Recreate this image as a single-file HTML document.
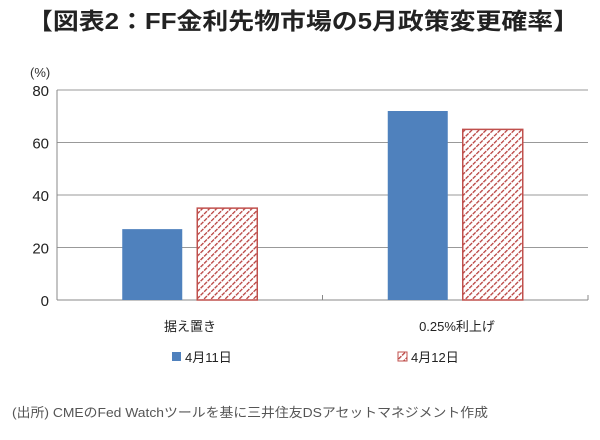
<!DOCTYPE html>
<html><head><meta charset="utf-8"><style>
body{margin:0;width:600px;height:435px;background:#fff;font-family:"Liberation Sans","Noto Sans CJK JP",sans-serif;overflow:hidden}
</style></head><body>
<svg width="600" height="435">
<defs><pattern id="hatch" patternUnits="userSpaceOnUse" width="5" height="5" patternTransform="rotate(45)">
<rect width="5" height="5" fill="#fff"/><line x1="0" y1="0" x2="0" y2="5" stroke="#b8403d" stroke-width="2.6" stroke-dasharray="2,1"/></pattern></defs>
<text x="27" y="29" textLength="552" lengthAdjust="spacingAndGlyphs" font-size="23" font-weight="bold" fill="#222">【図表2：FF金利先物市場の5月政策変更確率】</text>
<text x="30" y="77" font-size="13" fill="#333">(%)</text>
<g id="grid"></g><g id="bars"></g>
<text x="190" y="331" text-anchor="middle" font-size="13" fill="#222">据え置き</text>
<text x="457" y="331" text-anchor="middle" font-size="13" fill="#222">0.25%利上げ</text>
<rect x="172" y="352" width="9" height="9" fill="#4f81bd"/>
<text x="185" y="362" font-size="13" fill="#222">4月11日</text>
<rect x="398" y="352" width="9" height="9" fill="url(#hatch)" stroke="#c0504d"/>
<text x="411" y="362" font-size="13" fill="#222">4月12日</text>
<text x="12" y="417" textLength="476" lengthAdjust="spacingAndGlyphs" font-size="13" fill="#555">(出所) CMEのFed Watchツールを基に三井住友DSアセットマネジメント作成</text>
</svg>
<script>
const categories=["据え置き","0.25%利上げ"];
const seriesApr11=[27,72];
const seriesApr12=[35,65];
const yTicks=[0,20,40,60,80];
const NS="http://www.w3.org/2000/svg";
const x0=57,x1=588,y0=300,yTop=90;
const y=v=>y0-(v/80)*(y0-yTop);
const bandW=(x1-x0)/categories.length;
const grid=document.getElementById('grid'),bars=document.getElementById('bars');
function mk(tag,attrs,parent){const e=document.createElementNS(NS,tag);for(const k in attrs)e.setAttribute(k,attrs[k]);parent.appendChild(e);return e;}
yTicks.forEach(t=>{
 const l=mk('line',{x1:x0,x2:x1,y1:y(t),y2:y(t),stroke:t===0?'#888':'#999','stroke-width':1},grid);
 
 
 const tx=mk('text',{x:x0-8,y:y(t)+6,'text-anchor':'end','font-size':15,fill:'#222'},grid);
 tx.textContent=t;
 
 
});
mk('line',{x1:x0,x2:x0,y1:yTop,y2:y0,stroke:'#888'},grid);
for(let i=0;i<=categories.length;i++){mk('line',{x1:x0+i*bandW,x2:x0+i*bandW,y1:y0,y2:y0-5,stroke:'#888'},grid);}
const bw=60,gap=15;
categories.forEach((c,i)=>{
 const cx=x0+bandW*(i+0.5);
 const a=mk('rect',{x:cx-gap/2-bw,y:y(seriesApr11[i]),width:bw,height:y0-y(seriesApr11[i]),fill:'#4f81bd'},bars);
 
 
 const b=mk('rect',{x:cx+gap/2,y:y(seriesApr12[i]),width:bw,height:y0-y(seriesApr12[i]),fill:'url(#hatch)',stroke:'#c0504d','stroke-width':1.5},bars);
 
 
});
</script>
</body></html>
